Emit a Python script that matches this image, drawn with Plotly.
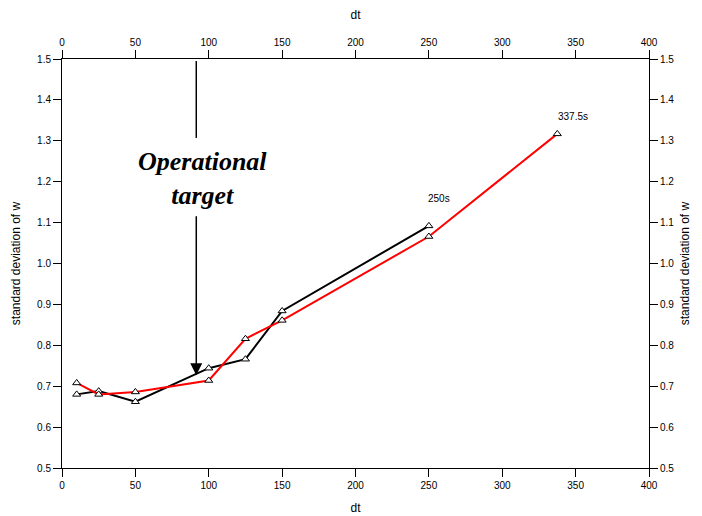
import plotly.graph_objects as go

# Data
dt_black = [10, 25, 50, 100, 125, 150, 250]
sd_black = [0.680, 0.688, 0.662, 0.744, 0.766, 0.884, 1.092]

dt_red = [10, 25, 50, 100, 125, 150, 250, 337.5]
sd_red = [0.708, 0.680, 0.686, 0.714, 0.816, 0.861, 1.066, 1.317]

x_ticks = [0, 50, 100, 150, 200, 250, 300, 350, 400]
y_ticks = [0.5, 0.6, 0.7, 0.8, 0.9, 1.0, 1.1, 1.2, 1.3, 1.4, 1.5]

label_texts = ["250s", "337.5s"]
label_x = [257, 348]
label_y = [1.160, 1.359]

target_x = 91.5
target_tip = 0.727

FONT = "Liberation Sans"

fig = go.Figure()

fig.add_trace(go.Scatter(
    x=dt_black, y=sd_black, mode="lines+markers",
    line=dict(color="black", width=2),
    marker=dict(symbol="triangle-up", size=7, color="white",
                line=dict(color="black", width=1)),
    showlegend=False, hoverinfo="skip"))

fig.add_trace(go.Scatter(
    x=dt_red, y=sd_red, mode="lines+markers",
    line=dict(color="#ff0000", width=2),
    marker=dict(symbol="triangle-up", size=7, color="white",
                line=dict(color="black", width=1)),
    showlegend=False, hoverinfo="skip"))

# invisible trace to anchor the secondary axes
fig.add_trace(go.Scatter(x=[0], y=[0.5], xaxis="x2", yaxis="y2",
                         mode="markers", marker=dict(opacity=0),
                         showlegend=False, hoverinfo="skip"))

axis_common = dict(
    showline=True, linecolor="black", linewidth=1,
    ticks="outside", ticklen=8, tickcolor="black", tickwidth=1,
    showgrid=False, zeroline=False, automargin=False,
    tickfont=dict(family=FONT, size=10, color="black"),
)

title_font = dict(family=FONT, size=12, color="black")

# page body has an 8px margin, so the figure is sized/offset to compensate
fig.update_layout(
    width=694, height=508,
    margin=dict(l=54, r=53, t=51, b=48),
    plot_bgcolor="white", paper_bgcolor="white",
    xaxis=dict(range=[0, 400], tickvals=x_ticks, side="bottom",
               title=dict(text="dt", font=title_font, standoff=13),
               **axis_common),
    xaxis2=dict(range=[0, 400], tickvals=x_ticks, side="top", overlaying="x",
                anchor="y",
                title=dict(text="dt", font=title_font, standoff=16),
                **axis_common),
    yaxis=dict(range=[0.5, 1.5], tickvals=y_ticks, tickformat=".1f", side="left",
               title=dict(text="standard deviation of w", font=title_font, standoff=13),
               **axis_common),
    yaxis2=dict(range=[0.5, 1.5], tickvals=y_ticks, tickformat=".1f", side="right",
                overlaying="y", anchor="x",
                title=dict(text="standard deviation of w", font=title_font, standoff=7),
                **axis_common),
)

for t, xx, yy in zip(label_texts, label_x, label_y):
    fig.add_annotation(x=xx, y=yy, text=t, showarrow=False,
                       font=dict(family=FONT, size=10, color="black"))

# Operational target text
fig.add_annotation(x=95.5, y=1.209,
                   text="<b><i>Operational</i></b><br><b><i>target</i></b>",
                   showarrow=False,
                   font=dict(family="Liberation Serif", size=26, color="black"))

# upper segment of the arrow
fig.add_shape(type="line", x0=target_x, x1=target_x, y0=1.495, y1=1.307,
              line=dict(color="black", width=1.5))

# lower segment with arrowhead
fig.add_annotation(x=target_x, y=target_tip, ax=target_x, ay=1.119,
                   axref="x", ayref="y", xref="x", yref="y",
                   showarrow=True, arrowhead=2, arrowsize=1.6, arrowwidth=1.5,
                   arrowcolor="black", text="")

fig.write_html("out.html")
